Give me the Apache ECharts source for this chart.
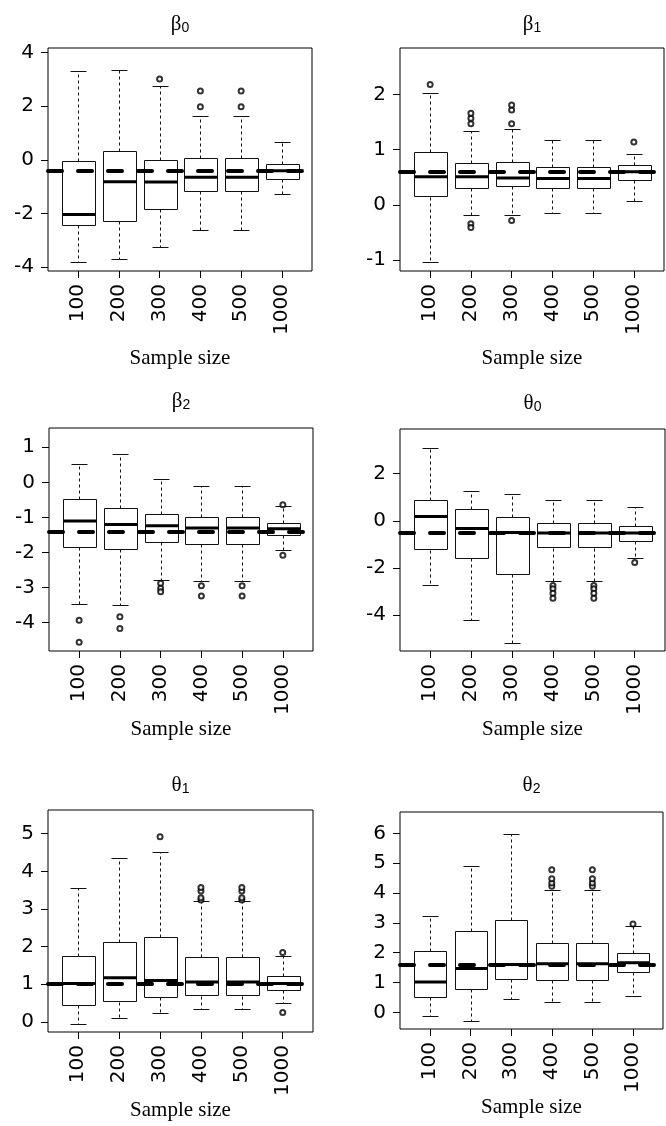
<!DOCTYPE html>
<html lang="en">
<head>
<meta charset="UTF-8">
<title>Sampling distributions by sample size</title>
<script src="https://cdn.jsdelivr.net/npm/echarts@6.0.0/dist/echarts.min.js"></script>
<style>
    html, body { margin: 0; padding: 0; background: #fff; }
    #chart { width: 666px; height: 1126px; }
</style>
</head>
<body>
<div id="chart"></div>
<script>
    // categories on the x axis
    var sampleSizes = ['100', '200', '300', '400', '500', '1000'];

    // box stats per sample size: [lower whisker, Q1, median, Q3, upper whisker]
    var beta0Box = [
        [-3.81, -2.45, -2.04, -0.06, 3.32],
        [-3.71, -2.28, -0.82, 0.34, 3.35],
        [-3.27, -1.85, -0.83, -0.01, 2.74],
        [-2.61, -1.17, -0.65, 0.06, 1.63],
        [-2.61, -1.17, -0.65, 0.06, 1.63],
        [-1.27, -0.72, -0.41, -0.16, 0.68]
    ];
    var beta0Out = [[], [], [3.01], [1.98, 2.57], [1.98, 2.57], []];
    var beta0True = -0.4;
    var beta0Ticks = [-4, -2, 0, 2, 4];

    var beta1Box = [
        [-1.04, 0.145, 0.51, 0.95, 2.02],
        [-0.19, 0.315, 0.51, 0.76, 1.34],
        [-0.18, 0.34, 0.49, 0.78, 1.37],
        [-0.14, 0.31, 0.48, 0.69, 1.18],
        [-0.14, 0.31, 0.48, 0.69, 1.18],
        [0.08, 0.46, 0.60, 0.73, 0.92]
    ];
    var beta1Out = [[2.18], [1.47, 1.57, 1.66, -0.34, -0.41], [1.47, 1.72, 1.81, -0.28], [], [], [1.14]];
    var beta1True = 0.6;
    var beta1Ticks = [-1, 0, 1, 2];

    var beta2Box = [
        [-3.48, -1.84, -1.10, -0.48, 0.53],
        [-3.50, -1.90, -1.20, -0.72, 0.81],
        [-2.78, -1.69, -1.24, -0.89, 0.09],
        [-2.82, -1.76, -1.30, -0.98, -0.10],
        [-2.82, -1.76, -1.30, -0.98, -0.10],
        [-1.92, -1.50, -1.32, -1.17, -0.68]
    ];
    var beta2Out = [[-3.93, -4.56], [-3.83, -4.17], [-2.88, -3.02, -3.12], [-2.95, -3.24], [-2.95, -3.24], [-0.64, -2.08]];
    var beta2True = -1.4;
    var beta2Ticks = [-4, -3, -2, -1, 0, 1];

    var theta0Box = [
        [-2.72, -1.23, 0.18, 0.87, 3.08],
        [-4.21, -1.59, -0.33, 0.50, 1.28],
        [-5.18, -2.26, -0.50, 0.16, 1.15],
        [-2.54, -1.15, -0.52, -0.11, 0.89],
        [-2.54, -1.15, -0.52, -0.11, 0.89],
        [-1.57, -0.84, -0.52, -0.20, 0.57]
    ];
    var theta0Out = [[], [], [], [-2.75, -2.89, -3.08, -3.29], [-2.75, -2.89, -3.08, -3.29], [-1.77]];
    var theta0True = -0.5;
    var theta0Ticks = [-4, -2, 0, 2];

    var theta1Box = [
        [-0.05, 0.46, 1.02, 1.76, 3.55],
        [0.09, 0.54, 1.17, 2.12, 4.35],
        [0.24, 0.66, 1.10, 2.25, 4.51],
        [0.35, 0.70, 1.06, 1.72, 3.21],
        [0.35, 0.70, 1.06, 1.72, 3.21],
        [0.51, 0.85, 1.02, 1.23, 1.76]
    ];
    var theta1Out = [[], [], [4.92], [3.24, 3.30, 3.48, 3.57], [3.24, 3.30, 3.48, 3.57], [1.84, 0.25]];
    var theta1True = 1.0;
    var theta1Ticks = [0, 1, 2, 3, 4, 5];

    var theta2Box = [
        [-0.11, 0.52, 1.02, 2.07, 3.23],
        [-0.29, 0.77, 1.47, 2.72, 4.90],
        [0.43, 1.12, 1.60, 3.09, 5.99],
        [0.34, 1.09, 1.63, 2.32, 4.12],
        [0.34, 1.09, 1.63, 2.32, 4.12],
        [0.56, 1.35, 1.66, 1.99, 2.88]
    ];
    var theta2Out = [[], [], [], [4.23, 4.34, 4.48, 4.78], [4.23, 4.34, 4.48, 4.78], [2.96]];
    var theta2True = 1.6;
    var theta2Ticks = [0, 1, 2, 3, 4, 5, 6];

    // panel layout (pixels) and axis extents
    var panels = [
        { sym: 'β', sub: '0', box: beta0Box, out: beta0Out, truth: beta0True, ticks: beta0Ticks,
          yMin: -4.15, yMax: 4.17, left: 48, top: 48, width: 264, height: 223, titleY: 23, nameGap: 77 },
        { sym: 'β', sub: '1', box: beta1Box, out: beta1Out, truth: beta1True, ticks: beta1Ticks,
          yMin: -1.195, yMax: 2.84, left: 400, top: 48, width: 264, height: 223, titleY: 23, nameGap: 77 },
        { sym: 'β', sub: '2', box: beta2Box, out: beta2Out, truth: beta2True, ticks: beta2Ticks,
          yMin: -4.81, yMax: 1.55, left: 49, top: 428, width: 264, height: 223, titleY: 400, nameGap: 68 },
        { sym: 'θ', sub: '0', box: theta0Box, out: theta0Out, truth: theta0True, ticks: theta0Ticks,
          yMin: -5.53, yMax: 3.9, left: 400, top: 429, width: 265, height: 222, titleY: 402, nameGap: 68 },
        { sym: 'θ', sub: '1', box: theta1Box, out: theta1Out, truth: theta1True, ticks: theta1Ticks,
          yMin: -0.27, yMax: 5.63, left: 48, top: 810, width: 265, height: 222, titleY: 784, nameGap: 65 },
        { sym: 'θ', sub: '2', box: theta2Box, out: theta2Out, truth: theta2True, ticks: theta2Ticks,
          yMin: -0.56, yMax: 6.72, left: 400, top: 812, width: 263, height: 217, titleY: 784, nameGap: 67 }
    ];

    var labelFont = 'DejaVu Sans';
    var px = function (v) { return Math.round(v) + 0.5; };

    function seg(x1, y1, x2, y2, dashed) {
        return {
            type: 'line',
            shape: { x1: x1, y1: y1, x2: x2, y2: y2 },
            style: { stroke: '#111', lineWidth: 1, fill: null, lineDash: dashed ? [3, 3] : null }
        };
    }

    // R-style box: dashed whiskers with staples, white box, thick median
    function renderBox(params, api) {
        var x = api.value(0);
        var lo = api.coord([x, api.value(1)]);
        var q1 = api.coord([x, api.value(2)]);
        var md = api.coord([x, api.value(3)]);
        var q3 = api.coord([x, api.value(4)]);
        var hi = api.coord([x, api.value(5)]);
        var half = api.size([0.4, 0])[0];
        var cap = Math.round(api.size([0.2, 0])[0]);
        var cx = px(lo[0]);
        var bx = px(cx - half);
        var bw = Math.round(2 * half);
        return {
            type: 'group',
            children: [
                seg(cx, px(q3[1]), cx, px(hi[1]), true),
                seg(cx, px(q1[1]), cx, px(lo[1]), true),
                seg(cx - cap, px(hi[1]), cx + cap, px(hi[1]), false),
                seg(cx - cap, px(lo[1]), cx + cap, px(lo[1]), false),
                { type: 'rect', shape: { x: bx, y: px(q3[1]), width: bw, height: Math.round(q1[1] - q3[1]) },
                  style: { stroke: '#111', lineWidth: 1, fill: '#fff' } },
                { type: 'line', shape: { x1: bx, y1: md[1], x2: bx + bw, y2: md[1] },
                  style: { stroke: '#000', lineWidth: 3 } }
            ]
        };
    }

    var option = {
        backgroundColor: '#fff',
        animation: false,
        title: [], grid: [], xAxis: [], yAxis: [], series: []
    };

    panels.forEach(function (p, i) {
        option.title.push({
            text: '{g|' + p.sym + '}{s|' + p.sub + '}',
            left: p.left + p.width / 2,
            top: p.titleY - 12,
            textAlign: 'center',
            padding: 0,
            textStyle: {
                fontWeight: 'normal',
                rich: {
                    g: { fontFamily: 'Liberation Serif', fontSize: 21, fontWeight: 'normal', lineHeight: 24, color: '#000', verticalAlign: 'bottom' },
                    s: { fontFamily: 'Liberation Sans', fontSize: 14, fontWeight: 'normal', lineHeight: 15, color: '#000', verticalAlign: 'bottom' }
                }
            }
        });
        option.grid.push({
            left: p.left, top: p.top, width: p.width, height: p.height,
            show: true, borderColor: '#000', borderWidth: 1, backgroundColor: 'transparent'
        });
        option.xAxis.push({
            type: 'value', gridIndex: i, min: 0.26, max: 6.74, position: 'bottom',
            name: 'Sample size', nameLocation: 'middle', nameGap: p.nameGap,
            nameTextStyle: { fontFamily: 'Liberation Serif', fontSize: 21, color: '#000', verticalAlign: 'top' },
            axisLine: { show: false, onZero: false },
            splitLine: { show: false },
            axisTick: { show: true, length: 7, lineStyle: { color: '#000' }, customValues: [1, 2, 3, 4, 5, 6] },
            axisLabel: {
                rotate: 90, margin: 13, color: '#000', fontFamily: labelFont, fontSize: 20,
                customValues: [1, 2, 3, 4, 5, 6],
                formatter: function (v) { return sampleSizes[Math.round(v) - 1]; }
            }
        });
        option.yAxis.push({
            type: 'value', gridIndex: i, min: p.yMin, max: p.yMax, position: 'left',
            axisLine: { show: false, onZero: false },
            splitLine: { show: false },
            axisTick: { show: true, length: 7, lineStyle: { color: '#000' }, customValues: p.ticks },
            axisLabel: {
                margin: 14, color: '#000', fontFamily: labelFont, fontSize: 20,
                customValues: p.ticks,
                formatter: function (v) { return String(v); }
            }
        });
        option.series.push({
            type: 'custom', xAxisIndex: i, yAxisIndex: i, z: 2,
            renderItem: renderBox,
            encode: { x: 0, y: [1, 2, 3, 4, 5] },
            data: p.box.map(function (b, k) { return [k + 1].concat(b); })
        });
        var pts = [];
        p.out.forEach(function (list, k) {
            list.forEach(function (v) { pts.push([k + 1, v]); });
        });
        option.series.push({
            type: 'scatter', xAxisIndex: i, yAxisIndex: i, z: 3,
            symbol: 'emptyCircle', symbolSize: 5,
            itemStyle: { color: '#000', borderColor: '#000', borderWidth: 1 },
            data: pts,
            markLine: {
                silent: true, symbol: ['none', 'none'], label: { show: false },
                lineStyle: { color: '#000', width: 4, type: [14, 16], cap: 'round' },
                data: [{ yAxis: p.truth }]
            }
        });
    });

    var chart = echarts.init(document.getElementById('chart'));
    chart.setOption(option);
</script>
</body>
</html>
